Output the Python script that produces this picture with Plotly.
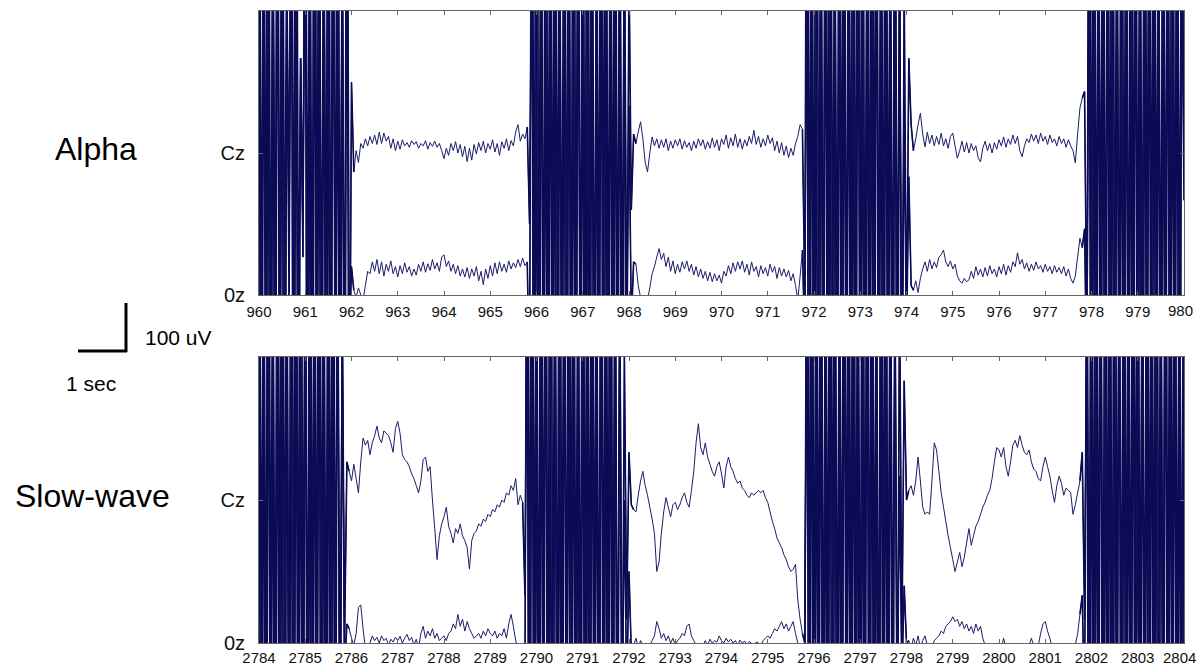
import plotly.graph_objects as go

# ---------------- data ----------------
alpha_ticks = list(range(960, 981))
slow_ticks = list(range(2784, 2805))
channel_labels = ["0z", "Cz"]
SAMPLE_DT = 0.05  # s between samples

# segment start times (s): burst, quiet, burst, quiet, burst, quiet, burst
alpha_starts = [960.0, 962.05, 965.85, 968.15, 971.8, 974.15, 977.85]
slow_starts = [2784.0, 2785.95, 2789.75, 2792.1, 2795.8, 2798.05, 2801.8]

# ---- Alpha, Cz (uV, relative to channel baseline) ----
alpha_cz_b1 = [450, -1400, 600, -900, 380, -1600, 520, -1100, 700, -800, 420, -1500, 350, -300, 650, -1300, 480, -1000, 200, -150, 560, -1200, 400, -1700, 750, -900, 380, -1400, 600, -1100, 450, -1600, 820, -700, 400, -1300, 520, -1000, 650, -800, 150]
alpha_cz_q1 = [-40, 5, -20, 20, 10, 30, 15, 35, 20, 38, 18, 44, 20, 42, 25, 35, 10, 30, 5, 25, 8, 28, 15, 22, 12, 26, 18, 24, 10, 20, 15, 26, 8, 22, 14, 25, 12, 20, 5, -12, 10, -5, 20, 5, 24, 0, 18, -8, 14, -18, 10, -15, 18, -2, 22, 5, 25, 0, 20, 8, 28, 2, 20, -5, 24, 10, 30, 5, 26, 15, 45, 60, 25, 40, 30, 55]
alpha_cz_b2 = [-150, 500, -1300, 420, -1600, 700, -900, 380, -1400, 600, -1100, 450, -1700, 520, -800, 360, -1500, 640, -1000, 400, -1300, 780, -900, 480, -1600, 350, -1200, 560, -1400, 420, -1000, 700, -1500, 390, -1100, 600, -1300, 460, -900, 520, -1500, 380, -600, 400, -120, 40]
alpha_cz_q2 = [20, 45, 66, 30, -20, -40, 0, 34, 15, 30, 10, 28, 12, 30, 5, 25, 10, 28, 15, 30, 8, 26, 12, 22, 5, 25, 10, 30, 15, 28, 8, 24, 10, 32, 12, 28, 5, 30, 18, 38, 10, 32, 15, 40, 12, 30, 8, 28, 15, 35, 20, 48, 18, 35, 12, 30, 15, 38, 20, 32, 5, 25, 0, 22, -5, 15, -10, 10, -5, 20, 35, 60, 50]
alpha_cz_b3 = [-300, 450, -1500, 600, -1100, 380, -1700, 520, -900, 700, -1300, 420, -1600, 360, -1000, 650, -1400, 480, -800, 550, -1500, 400, -1200, 720, -900, 380, -1600, 600, -1100, 460, -1300, 800, -1000, 420, -1500, 560, -900, 380, -1200, 500, -1000, 420, -700, 350, -400, 200, 60]
alpha_cz_q3 = [5, 30, 60, 84, 40, 13, 44, 20, 38, 15, 35, 18, 42, 15, 30, 10, 35, 42, 15, -11, 5, 25, 2, 22, 0, 20, 5, 15, -10, -19, 10, 25, 5, 20, 0, 22, 8, 28, 15, 34, 12, 30, 18, 38, 20, 35, 5, -8, 15, 30, 22, 40, 25, 38, 20, 42, 25, 35, 18, 38, 22, 30, 15, 35, 20, 30, 12, 28, 15, 5, -21, 40, 95, 116]
alpha_cz_b4 = [130, -400, 520, -1300, 400, -1600, 650, -900, 380, -1400, 720, -1100, 450, -1700, 560, -800, 400, -1500, 600, -1000, 360, -1300, 780, -1200, 420, -1600, 520, -900, 650, -1400, 390, -1100, 600, -1500, 460, -1000, 700, -1300, 420, -900, 560, -1600, 480, -100]

# ---- Alpha, Oz ----
alpha_oz_b1 = [1400, -150, 1100, -60, 1600, -250, 900, -100, 1300, -300, 1500, -80, 700, 150, 1200, -200, 1700, -120, 500, 80, 1300, -60, 1000, -250, 1600, -100, 1200, -180, 900, -60, 1500, -220, 1100, -90, 1400, -150, 800, -300, 1300, -100, 60]
alpha_oz_q1 = [10, -5, 15, 0, -10, 20, 50, 45, 70, 50, 75, 45, 70, 40, 65, 50, 72, 45, 60, 38, 62, 45, 68, 48, 60, 40, 55, 42, 65, 50, 70, 48, 66, 52, 75, 55, 68, 50, 80, 85, 60, 72, 50, 65, 45, 62, 40, 55, 38, 58, 35, 55, 40, 60, 30, 50, 22, 55, 35, 62, 40, 68, 45, 70, 50, 65, 48, 72, 55, 68, 58, 75, 60, 78, 62, 70]
alpha_oz_b2 = [-200, 1300, -120, 1600, -60, 1000, -250, 1500, -90, 1200, -180, 1700, -70, 900, -220, 1400, -100, 1100, -300, 1600, -60, 1000, -200, 1300, -140, 1500, -80, 1200, -260, 900, -110, 1600, -60, 1300, -190, 1100, -90, 1400, -230, 1000, -120, 800, -60, 400, -60, 70]
alpha_oz_q2 = [65, 20, -5, -15, -20, -10, 15, 45, 60, 80, 98, 75, 88, 60, 80, 50, 72, 45, 65, 48, 70, 55, 72, 50, 65, 42, 60, 38, 55, 35, 50, 30, 48, 28, 45, 30, 42, 25, 50, 40, 62, 45, 68, 50, 70, 55, 72, 48, 65, 42, 70, 50, 60, 38, 62, 45, 58, 40, 65, 48, 60, 35, 58, 40, 55, 38, 52, 30, 45, 20, -10, 40, 95]
alpha_oz_b3 = [-100, 1500, -80, 1200, -200, 1700, -60, 1000, -250, 1400, -120, 1600, -70, 900, -180, 1300, -90, 1500, -300, 1100, -60, 1600, -150, 1200, -80, 1400, -220, 1000, -100, 1700, -60, 1300, -200, 1100, -130, 1500, -60, 900, -240, 1200, -150, 700, -200, 380, -100, 250, 20]
alpha_oz_q3 = [10, 30, 5, 35, 55, 70, 50, 75, 55, 70, 58, 80, 85, 95, 70, 60, 72, 55, 65, 40, 30, 25, 35, 28, 32, 50, 35, 60, 42, 55, 38, 58, 40, 62, 45, 55, 38, 60, 45, 65, 42, 62, 48, 70, 60, 89, 65, 75, 55, 68, 50, 65, 52, 70, 55, 62, 48, 65, 50, 60, 45, 62, 48, 58, 45, 60, 40, 55, 35, 25, 40, 80, 120, 100]
alpha_oz_b4 = [140, -200, 1300, -80, 1600, -150, 1000, -60, 1400, -250, 1200, -90, 1700, -120, 900, -200, 1500, -60, 1100, -300, 1600, -100, 1300, -70, 1000, -220, 1500, -90, 1200, -150, 1700, -60, 900, -240, 1400, -110, 1100, -60, 1600, -180, 1200, -80, 1000, 300]

# ---- Slow-wave, Cz ----
slow_cz_b1 = [400, -1300, 560, -1600, 700, -900, 380, -1400, 620, -1100, 450, -1700, 520, -800, 360, -1500, 650, -1000, 420, -1300, 780, -1200, 400, -1600, 540, -900, 660, -1400, 380, -1100, 600, -1500, 480, -1000, 720, -800, 420, -300, 80]
slow_cz_q1 = [60, 40, 75, 45, 15, 80, 130, 115, 125, 95, 120, 135, 155, 130, 120, 145, 140, 135, 120, 100, 150, 165, 140, 95, 85, 80, 70, 55, 45, 30, 15, 40, 85, 90, 60, 70, 0, -60, -125, -75, -50, -35, -15, -55, -70, -90, -60, -70, -50, -75, -85, -100, -145, -85, -70, -65, -50, -55, -40, -45, -30, -35, -20, -25, -10, -15, 0, -5, 15, 10, 30, 20, 45, -10, 10, -5]
slow_cz_b2 = [-200, 500, -1400, 650, -1000, 400, -1700, 560, -900, 720, -1300, 380, -1500, 600, -1100, 450, -1600, 680, -800, 420, -1400, 520, -1000, 360, -1500, 700, -1200, 440, -1600, 580, -900, 400, -1300, 760, -1100, 480, -1500, 620, -1000, 400, -900, 500, -600, 300, -250, 100, -10]
slow_cz_q2 = [-20, -25, 10, 40, 60, 30, 10, -15, -40, -70, -150, -130, -70, -25, 5, -15, -35, -10, -5, -20, -10, 5, 15, -5, -15, 20, 60, 120, 160, 110, 95, 120, 90, 75, 60, 50, 70, 80, 55, 25, 70, 90, 70, 60, 45, 35, 40, 25, 20, 10, 5, 15, 10, 15, 20, 15, 20, 5, -5, -25, -45, -60, -80, -90, -100, -115, -125, -140, -150, -145, -135, -210, -250, -280]
slow_cz_b3 = [-300, 450, -1200, 700, -1600, 400, -900, 560, -1400, 380, -1100, 640, -1700, 500, -1000, 420, -1500, 760, -800, 360, -1300, 600, -1200, 480, -1600, 400, -900, 700, -1400, 520, -1100, 380, -1500, 620, -1000, 450, -1300, 560, -900, 500, -600, 450, -300, 250, 0]
slow_cz_q3 = [20, 30, 10, 40, 90, 40, -15, -30, -25, -30, 40, 120, 105, 60, 15, -15, -45, -75, -100, -125, -150, -130, -110, -140, -120, -90, -60, -95, -75, -55, -45, -30, -15, -5, 10, 20, 45, 80, 110, 105, 90, 110, 70, 50, 80, 115, 125, 110, 135, 115, 100, 95, 105, 80, 65, 60, 45, 40, 70, 90, 70, 50, 20, -5, 30, 50, 35, 10, 25, 20, 15, -30, -10, 15, 40]
slow_cz_b4 = [100, -250, 450, -1300, 600, -1600, 380, -900, 720, -1400, 420, -1100, 560, -1700, 400, -800, 650, -1500, 480, -1000, 380, -1300, 700, -1200, 440, -1600, 560, -900, 400, -1400, 620, -1100, 360, -1500, 520, -1000, 760, -1300, 420, -900, 600, -1600, 480, -1200, 300]

# ---- Slow-wave, Oz ----
slow_oz_b1 = [1400, -100, 1100, -250, 1600, -60, 900, -200, 1300, -120, 1700, -80, 1000, -300, 1500, -60, 1200, -180, 1600, -90, 900, -240, 1400, -70, 1100, -150, 1700, -60, 1000, -220, 1300, -100, 1500, -60, 800, -150, 600, -60, 40]
slow_oz_q1 = [30, 10, -5, 20, 75, 80, 30, -10, -20, 0, 15, 5, 12, 0, 15, 5, 10, -5, 8, 2, 12, 5, 14, 0, 10, 18, 5, 12, -5, 8, -10, 20, 35, 10, 25, 15, 30, 10, 20, 5, 10, 15, 5, 20, 25, 40, 30, 60, 35, 50, 25, 45, 30, 20, 10, 15, 20, 10, 25, 15, 30, 20, 15, 25, 10, 20, 15, 30, 10, 40, 60, 35, 5, -15, -20, -10]
slow_oz_b2 = [-80, 1300, -150, 1600, -60, 1000, -250, 1500, -90, 1200, -300, 1700, -70, 900, -180, 1400, -100, 1100, -220, 1600, -60, 1300, -140, 1000, -260, 1500, -80, 1200, -190, 1700, -60, 900, -230, 1400, -120, 1100, -60, 1600, -200, 1000, -260, 700, -200, 300, -100, 150, -20]
slow_oz_q2 = [-5, 10, -10, 5, -5, 0, -10, -5, 5, 15, 45, 30, 10, 20, 5, 15, 0, 10, -5, 5, 10, 20, 15, 35, 40, 15, 5, -5, 0, -10, -5, 5, -5, 8, 0, 5, 2, 15, 5, 0, 10, 2, 8, 0, 5, -5, 6, 0, 4, -5, 3, 0, -5, 2, 0, -5, 5, 10, 15, 10, 20, 30, 25, 35, 45, 30, 40, 25, 35, 45, 20, 0, -30, -40]
slow_oz_b3 = [-60, 1200, -90, 1700, -200, 1100, -60, 1400, -280, 1000, -120, 1600, -70, 1300, -220, 900, -100, 1500, -60, 1200, -190, 1700, -80, 1000, -250, 1400, -60, 1100, -160, 1600, -90, 900, -300, 1300, -70, 1500, -210, 1000, -100, 700, -150, 350, -80, 120, 0]
slow_oz_q3 = [5, -10, 10, -5, 15, -10, 5, 15, -5, 0, -10, 5, 10, 15, 25, 20, 35, 40, 45, 55, 45, 50, 35, 45, 30, 40, 25, 35, 20, 40, 25, 35, 10, -5, -15, -10, -20, -10, -15, -5, -10, 10, -10, -15, -20, -10, -15, -20, -10, -15, -20, -10, -5, 10, -5, -15, -5, 20, 40, 45, 25, 10, -10, -20, -15, -20, -15, -25, -20, -15, -20, -10, -5, 20, 60]
slow_oz_b4 = [100, -150, 900, -100, 1300, -150, 1600, -60, 1000, -250, 1500, -90, 1200, -300, 1700, -70, 900, -180, 1400, -100, 1100, -220, 1600, -60, 1300, -140, 1000, -260, 1500, -80, 1200, -190, 1700, -60, 900, -230, 1400, -120, 1100, -60, 1600, -200, 1000, -150, 1300]

# ---------------- style ----------------
CZ_OFFSET = 300      # uV spacing between channel baselines
Y_RANGE = [0, 600]
TRACE_COLOR = "#0b0b55"
QUIET_COLOR = "#1c1c6a"
FRAME = "#666666"
FONT = "Liberation Sans, Arial, sans-serif"
TICK_SIZE = 15
W, H = 1198, 667


def build(starts, segments):
    xs, ys, ranges = [], [], []
    for start, seg in zip(starts, segments):
        i0 = len(xs)
        xs += [start + k * SAMPLE_DT for k in range(len(seg))]
        ys += list(seg)
        ranges.append((i0, len(xs)))
    return xs, ys, ranges


panels = [
    (alpha_starts,
     [alpha_cz_b1, alpha_cz_q1, alpha_cz_b2, alpha_cz_q2, alpha_cz_b3, alpha_cz_q3, alpha_cz_b4],
     [alpha_oz_b1, alpha_oz_q1, alpha_oz_b2, alpha_oz_q2, alpha_oz_b3, alpha_oz_q3, alpha_oz_b4],
     "x", "y"),
    (slow_starts,
     [slow_cz_b1, slow_cz_q1, slow_cz_b2, slow_cz_q2, slow_cz_b3, slow_cz_q3, slow_cz_b4],
     [slow_oz_b1, slow_oz_q1, slow_oz_b2, slow_oz_q2, slow_oz_b3, slow_oz_q3, slow_oz_b4],
     "x2", "y2"),
]

fig = go.Figure()
for starts, cz_segs, oz_segs, xa, ya in panels:
    for segs, off in ((oz_segs, 0), (cz_segs, CZ_OFFSET)):
        xs, ys, ranges = build(starts, segs)
        yy = [v + off for v in ys]
        # whole channel, thin line
        fig.add_trace(go.Scatter(
            x=xs, y=yy, mode="lines",
            line=dict(color=QUIET_COLOR, width=1, simplify=False),
            xaxis=xa, yaxis=ya, hoverinfo="skip", showlegend=False))
        # artifact bursts (even segments), drawn a bit heavier
        for j in range(0, len(ranges), 2):
            a, b = ranges[j]
            a = max(a - 1, 0)
            b = min(b + 1, len(xs))
            fig.add_trace(go.Scatter(
                x=xs[a:b], y=yy[a:b], mode="lines",
                line=dict(color=TRACE_COLOR, width=1.6, simplify=False),
                xaxis=xa, yaxis=ya, hoverinfo="skip", showlegend=False))


def xaxis(ticks, domain, anchor, standoff):
    labels = [str(t) for t in ticks]
    labels[-1] = ""  # last label placed as annotation so it stays inside the page
    return dict(domain=domain, anchor=anchor, range=[ticks[0], ticks[-1]],
                tickvals=ticks, ticktext=labels,
                ticks="inside", ticklen=4, tickcolor=FRAME, mirror="ticks",
                showline=True, linecolor=FRAME, linewidth=1, showgrid=False,
                zeroline=False, automargin=False, ticklabeloverflow="allow",
                tickfont=dict(family=FONT, size=TICK_SIZE, color="#111"),
                ticklabelstandoff=standoff)


def yaxis(domain, anchor):
    return dict(domain=domain, anchor=anchor, range=Y_RANGE,
                tickvals=[0, CZ_OFFSET], ticktext=channel_labels,
                ticks="inside", ticklen=4, tickcolor=FRAME, mirror="ticks",
                showline=True, linecolor=FRAME, linewidth=1, showgrid=False,
                zeroline=False, automargin=False, ticklabeloverflow="allow",
                tickfont=dict(family=FONT, size=20, color="#111"),
                ticklabelstandoff=9)


xd = [259 / W, 1184 / W]
fig.update_layout(
    width=W, height=H, margin=dict(l=0, r=0, t=0, b=0, autoexpand=False),
    paper_bgcolor="white", plot_bgcolor="white", showlegend=False,
    xaxis=xaxis(alpha_ticks, xd, "y", 3),
    yaxis=yaxis([1 - 295 / H, 1 - 11 / H], "x"),
    xaxis2=xaxis(slow_ticks, xd, "y2", 1),
    yaxis2=yaxis([1 - 643 / H, 1 - 357 / H], "x2"),
)


def ann(text, px, py, size, xanchor="center"):
    return dict(text=text, x=px / W, y=1 - py / H, xref="paper", yref="paper",
                showarrow=False, xanchor=xanchor, yanchor="middle",
                font=dict(family=FONT, size=size, color="black"))


def end_label(text, px, py):
    d = ann(text, px, py, TICK_SIZE, xanchor="right")
    d["font"]["color"] = "#111"
    d["borderpad"] = 0
    return d


fig.update_layout(annotations=[
    ann("Alpha", 96, 149, 32),
    ann("Slow-wave", 92, 496, 32),
    ann("100 uV", 178, 337, 21),
    ann("1 sec", 91, 383, 21),
    end_label(str(alpha_ticks[-1]), 1194, 310),
    end_label(str(slow_ticks[-1]), 1197, 657),
])

fig.update_layout(shapes=[
    dict(type="line", xref="paper", yref="paper", x0=78 / W, x1=127 / W,
         y0=1 - 351 / H, y1=1 - 351 / H, line=dict(color="black", width=3)),
    dict(type="line", xref="paper", yref="paper", x0=126 / W, x1=126 / W,
         y0=1 - 303 / H, y1=1 - 352 / H, line=dict(color="black", width=3)),
])

fig.write_html("out.html")
